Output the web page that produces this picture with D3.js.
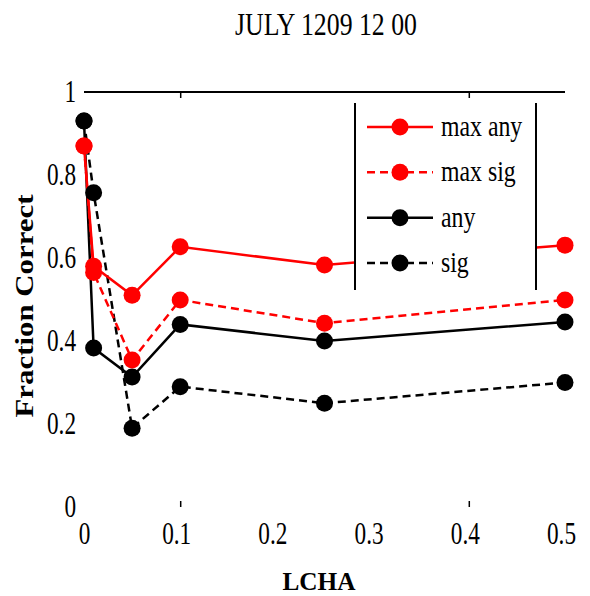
<!DOCTYPE html>
<html>
<head>
<meta charset="utf-8">
<script src="https://cdn.jsdelivr.net/npm/d3@7"></script>
<style>
  body { margin: 0; background: #fff; }
  text { font-family: "Liberation Serif", "DejaVu Serif", serif; }
</style>
</head>
<body>
<div id="chart"></div>
<script>
// values
var lcha = [0, 0.01, 0.05, 0.1, 0.25, 0.5];
var maxAny = [0.87, 0.58, 0.51, 0.627, 0.583, 0.631];
var maxSig = [0.87, 0.565, 0.354, 0.499, 0.443, 0.499];
var anyVals = [0.93, 0.383, 0.313, 0.44, 0.40, 0.446];
var sigVals = [0.93, 0.757, 0.19, 0.29, 0.25, 0.30];
var seriesNames = ["max any", "max sig", "any", "sig"];
var xTicks = [0, 0.1, 0.2, 0.3, 0.4, 0.5];
var yTicks = [0, 0.2, 0.4, 0.6, 0.8, 1];

var width = 590, height = 596;
var series = [
  {name: seriesNames[0], values: maxAny, color: "#ff0000", dash: null},
  {name: seriesNames[1], values: maxSig, color: "#ff0000", dash: "8,5"},
  {name: seriesNames[2], values: anyVals, color: "#000000", dash: null},
  {name: seriesNames[3], values: sigVals, color: "#000000", dash: "8,5"}
];

// the original glyphs are tall and narrow, so squeeze text horizontally
function squeeze(sel, factor) {
  sel.each(function() {
    var w = this.getComputedTextLength();
    d3.select(this)
      .attr("textLength", w * factor)
      .attr("lengthAdjust", "spacingAndGlyphs");
  });
}

var svg = d3.select("#chart").append("svg")
  .attr("width", width)
  .attr("height", height);

var x = d3.scaleLinear().domain([0, 0.5]).range([84, 565]);
var y = d3.scaleLinear().domain([0, 1]).range([507, 92]);

// title
svg.append("text")
  .attr("x", 326).attr("y", 35)
  .attr("text-anchor", "middle")
  .style("font-size", "31px")
  .text("JULY 1209 12 00")
  .attr("textLength", 182)
  .attr("lengthAdjust", "spacingAndGlyphs");

// top frame line with inward ticks
var topAxis = svg.append("g")
  .attr("transform", "translate(0," + y(1) + ")")
  .call(d3.axisTop(x).tickValues([0.1, 0.4]).tickSize(-6).tickFormat(""));
topAxis.select(".domain").attr("stroke-width", 2).attr("d", "M" + x(0) + ",0H" + x(0.5));
topAxis.selectAll(".tick line").attr("stroke-width", 1.5);

// bottom: tick marks only
var botTicks = svg.append("g")
  .attr("transform", "translate(0," + y(0) + ")")
  .call(d3.axisBottom(x).tickValues([0.1, 0.4]).tickSize(-6).tickFormat(""));
botTicks.select(".domain").remove();
botTicks.selectAll(".tick line").attr("stroke-width", 1.5);

// x tick labels
var xAxis = svg.append("g")
  .attr("transform", "translate(0,519)")
  .call(d3.axisBottom(x).tickValues(xTicks).tickSize(0).tickFormat(d3.format("")));
xAxis.select(".domain").remove();
xAxis.selectAll("text")
  .style("font-size", "31px")
  .style("font-family", "'Liberation Serif', serif")
  .attr("fill", "#000")
  .attr("dx", function(d) { return d === 0 ? 0 : -4; })
  .call(squeeze, 0.75);

// y tick labels
var yAxis = svg.append("g")
  .attr("transform", "translate(79,0)")
  .call(d3.axisLeft(y).tickValues(yTicks).tickSize(0).tickFormat(d3.format("")));
yAxis.select(".domain").remove();
yAxis.selectAll("text")
  .style("font-size", "31px")
  .style("font-family", "'Liberation Serif', serif")
  .attr("fill", "#000")
  .call(squeeze, 0.75);

// axis titles
svg.append("text")
  .attr("x", 319).attr("y", 590)
  .attr("text-anchor", "middle")
  .style("font-size", "26px")
  .style("font-weight", "bold")
  .text("LCHA")
  .attr("textLength", 73)
  .attr("lengthAdjust", "spacingAndGlyphs");

svg.append("text")
  .attr("transform", "translate(33,306) rotate(-90)")
  .attr("text-anchor", "middle")
  .style("font-size", "26px")
  .style("font-weight", "bold")
  .text("Fraction Correct")
  .attr("textLength", 223)
  .attr("lengthAdjust", "spacingAndGlyphs");

// lines and markers
var line = d3.line()
  .x(function(d, i) { return x(lcha[i]); })
  .y(function(d) { return y(d); });

series.slice().reverse().forEach(function(s) {
  svg.append("path")
    .datum(s.values)
    .attr("d", line)
    .attr("fill", "none")
    .attr("stroke", s.color)
    .attr("stroke-width", 2.5)
    .attr("stroke-dasharray", s.dash);
});
series.slice().reverse().forEach(function(s) {
  svg.selectAll(null)
    .data(s.values)
    .enter().append("circle")
    .attr("cx", function(d, i) { return x(lcha[i]); })
    .attr("cy", function(d) { return y(d); })
    .attr("r", 8.5)
    .attr("fill", s.color);
});

// legend
var legend = svg.append("g");
legend.append("rect")
  .attr("x", 355).attr("y", 103).attr("width", 181).attr("height", 187)
  .attr("fill", "#fff");
legend.append("line")
  .attr("x1", 355).attr("x2", 355).attr("y1", 103).attr("y2", 290)
  .attr("stroke", "#000").attr("stroke-width", 2);
legend.append("line")
  .attr("x1", 536).attr("x2", 536).attr("y1", 103).attr("y2", 290)
  .attr("stroke", "#000").attr("stroke-width", 2);

var legendY = d3.scalePoint().domain(seriesNames).range([127, 263]);
series.forEach(function(s) {
  var ly = legendY(s.name);
  legend.append("line")
    .attr("x1", 367).attr("x2", 433).attr("y1", ly).attr("y2", ly)
    .attr("stroke", s.color).attr("stroke-width", 2.5)
    .attr("stroke-dasharray", s.dash);
  legend.append("circle")
    .attr("cx", 400).attr("cy", ly).attr("r", 8.5)
    .attr("fill", s.color);
  legend.append("text")
    .attr("x", 441).attr("y", ly + 9)
    .style("font-size", "29px")
    .text(s.name)
    .call(squeeze, 0.82);
});
</script>
</body>
</html>
